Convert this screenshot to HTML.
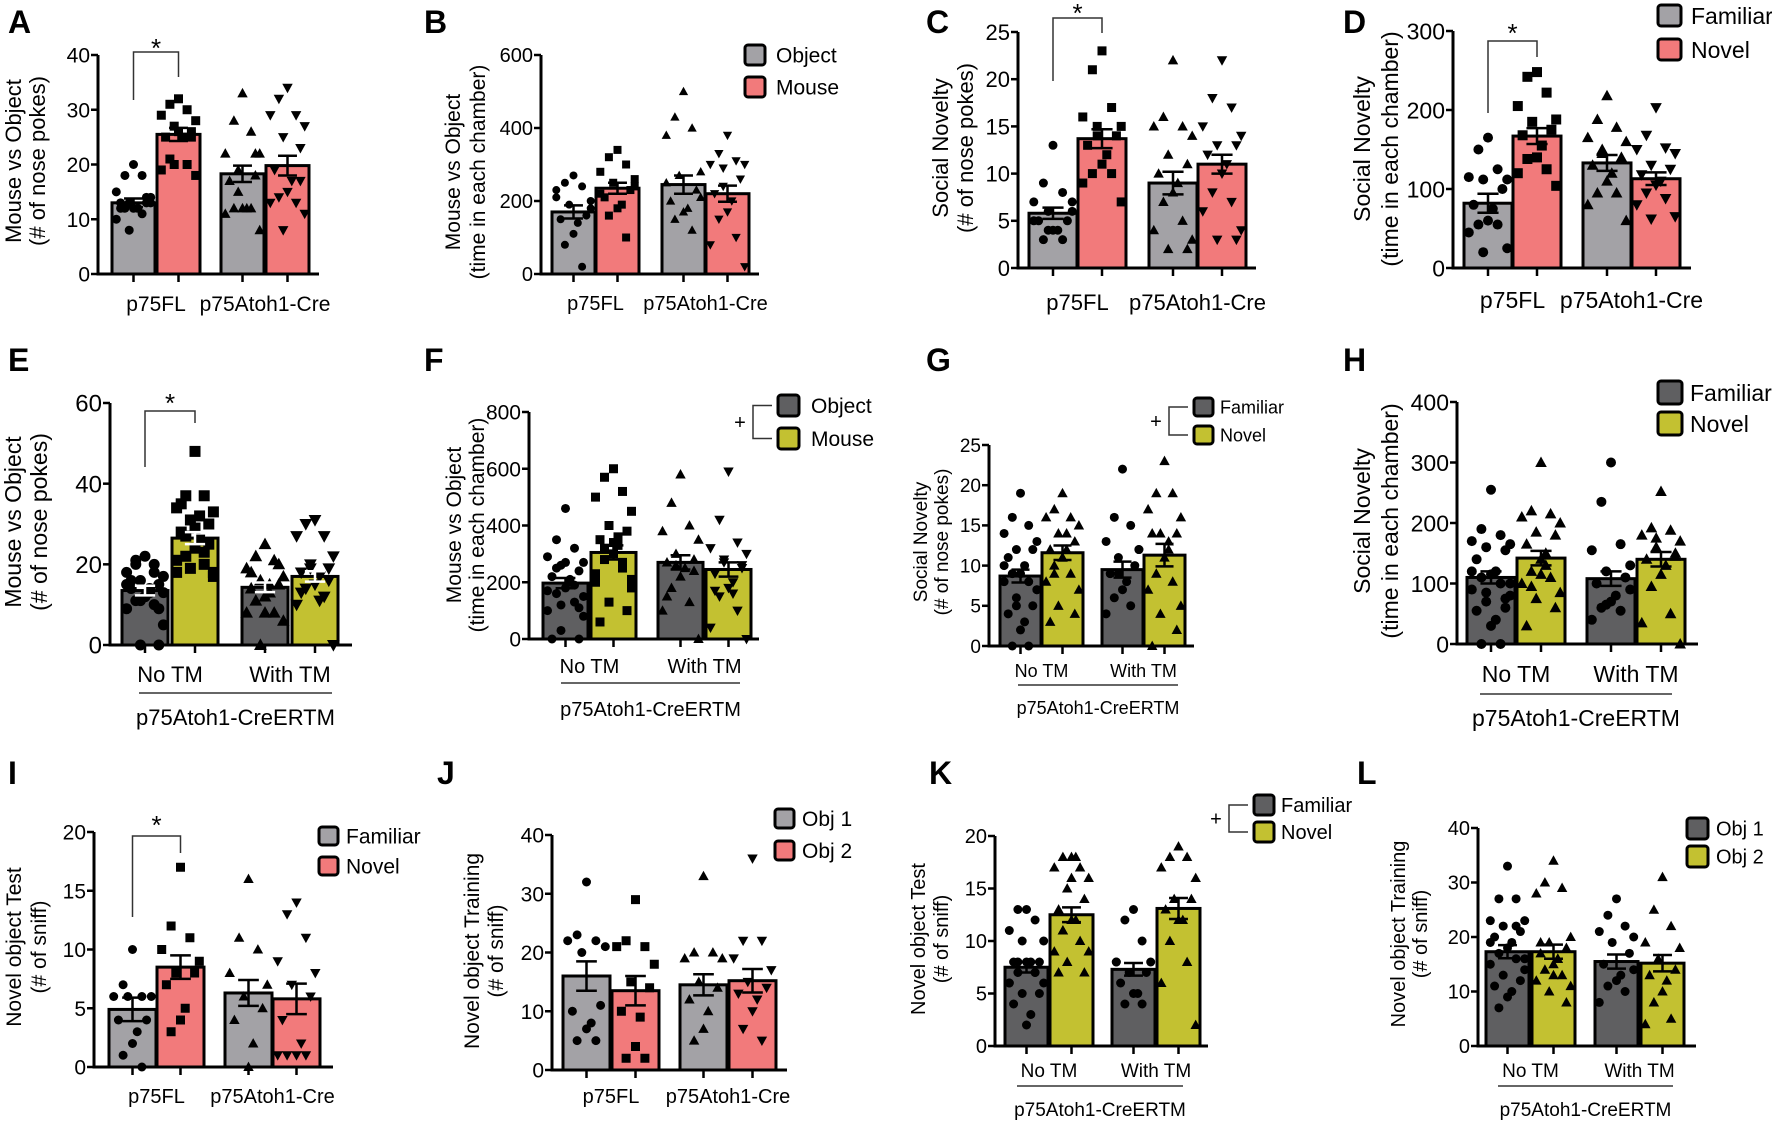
<!DOCTYPE html>
<html><head><meta charset="utf-8"><style>
html,body{margin:0;padding:0;background:#fff}
svg{display:block;font-family:"Liberation Sans",Arial,sans-serif}
</style></head><body>
<svg id="fig" xmlns="http://www.w3.org/2000/svg" width="1772" height="1126" viewBox="0 0 1772 1126"></svg>
<script>
// ---------- DATA ----------
const catsCre = ['p75FL','p75Atoh1-Cre'];
const catsTM = ['No TM','With TM'];
const groupTM = 'p75Atoh1-CreERTM';

const A_mean=[13,25.5,18.3,19.8]; const A_sem=[0.8,1.2,1.5,1.8];
const A_p1=[20,18,18,15,14,13,13,13,12,12,12,11,10,13,8,14,12];
const A_p2=[32,31,30,29,28,27,26,25,25,26,21,20,19,18,20,25];
const A_p3=[33,28,26,22,22,19,18,17,12,12,12,12,11,8,15,22];
const A_p4=[34,32,29,29,27,25,23,19,17,15,14,13,13,11,8,17];

const B_mean=[170,235,245,220]; const B_sem=[18,15,25,22];
const B_p1=[270,250,240,230,200,190,160,150,140,110,80,20,210,180];
const B_p2=[340,320,300,280,260,250,230,210,190,180,160,100,220,240];
const B_p3=[500,430,400,380,280,270,230,200,180,170,150,120,250,210];
const B_p4=[380,330,310,300,300,290,260,220,200,170,150,100,80,20,240];

const C_mean=[5.8,13.7,9,11]; const C_sem=[0.6,1,1.2,1];
const C_p1=[13,9,8,7,7,6,5,5,4,4,3,3,5,6,4];
const C_p2=[23,21,17,16,15,14,14,13,12,11,10,10,9,7,15];
const C_p3=[22,16,15,15,14,12,11,10,9,8,7,5,4,3,2,2];
const C_p4=[22,18,17,15,14,13,13,12,11,10,8,7,6,4,3,3];

const D_mean=[82,167,133,113]; const D_sem=[12,10,10,8];
const D_p1=[165,150,125,115,112,112,100,80,75,60,55,55,45,25,20];
const D_p2=[248,242,222,205,188,185,175,168,155,140,138,125,120,104];
const D_p3=[218,188,178,165,160,150,140,130,120,110,95,95,80,60,145];
const D_p4=[203,168,152,150,145,130,125,118,110,105,95,88,80,65,62];

const E_mean=[13.5,26.5,14.3,17]; const E_sem=[1.2,1.5,1.2,1.3];
const E_p1=[22,21,20,18,17,16,15,14,13,12,11,10,9,5,0,0,16,14,12,20,18,15,13,11,9];
const E_p2=[48,37,37,34,33,31,30,28,26,24,22,20,18,17,19,25,35,32,29,27,23,21,18];
const E_p3=[25,22,21,19,17,16,15,14,13,12,11,8,8,6,0,20,18,15,8];
const E_p4=[31,30,27,27,22,20,19,18,17,15,14,12,10,0,19,16,13,11];

const F_mean=[197,305,270,245]; const F_sem=[18,25,25,25];
const F_p1=[460,350,320,290,270,260,240,220,200,180,160,130,100,80,30,0,0,210,270,250,190,170,150,120,110];
const F_p2=[600,570,520,500,450,400,380,350,330,300,280,250,200,180,130,100,60,360,340,320,270,230,210];
const F_p3=[580,480,400,380,350,300,280,270,250,220,180,130,100,0,260,240,150];
const F_p4=[590,420,340,320,300,280,250,230,200,180,150,100,40,0,270,260,170,160];

const G_mean=[8.7,11.6,9.5,11.3]; const G_sem=[0.8,0.9,1,1.4];
const G_p1=[19,16,15,14,13,12,12,11,10,9,9,8,8,7,6,5,4,3,2,0,0,10,7,5];
const G_p2=[19,17,16,16,15,14,13,12,12,11,10,9,8,7,5,4,3,14,11,9];
const G_p3=[22,16,15,13,12,11,10,9,8,7,6,5,4,12,9];
const G_p4=[23,19,19,17,16,14,14,14,13,11,9,8,7,5,4,2,0,12];

const H_mean=[110,142,108,140]; const H_sem=[10,12,12,12];
const H_p1=[255,190,180,170,165,160,155,140,120,115,110,100,90,80,70,60,55,40,30,0,0,120,100,85,75];
const H_p2=[300,220,215,210,200,185,180,165,150,140,120,110,100,85,75,60,30,130,115,95];
const H_p3=[300,235,165,155,130,120,110,100,80,70,60,55,40,90,65];
const H_p4=[252,192,188,180,170,160,150,140,130,115,95,50,35,0,175,145];

const I_mean=[4.9,8.5,6.3,5.8]; const I_sem=[1,1,1.1,1.3];
const I_p1=[10,7,6,6,6,6,4,4,3,2,1,0];
const I_p2=[17,12,11,10,9,8,8,7,5,4,3];
const I_p3=[16,11,10,8,7,6,5,4,2,0];
const I_p4=[14,13,11,9,8,7,6,4,2,1,1,1,1];

const J_mean=[16,13.5,14.5,15.2]; const J_sem=[2.5,2.5,1.8,2];
const J_p1=[32,23,22,22,21,20,11,10,8,7,5,5];
const J_p2=[29,22,21,21,18,15,14,10,9,4,2,2];
const J_p3=[33,20,20,19,19,15,14,12,10,7,5];
const J_p4=[36,22,22,19,17,15,14,13,12,10,7,5];

const K_mean=[7.5,12.5,7.3,13.1]; const K_sem=[0.5,0.7,0.6,1];
const K_p1=[13,13,12,11,10,10,8,8,8,8,7,7,6,6,5,5,4,3,2,8,7,6];
const K_p2=[18,18,17,17,16,15,14,13,12,12,11,10,9,9,8,7,7,18,16,11];
const K_p3=[13,12,10,8,8,7,7,6,5,5,4,4,8];
const K_p4=[19,18,18,17,16,14,14,13,12,12,10,8,6,2];

const L_mean=[17.3,17.3,15.5,15.2]; const L_sem=[1.2,1.3,1.3,1.5];
const L_p1=[33,27,27,23,23,22,21,20,19,18,17,16,15,14,13,12,11,10,9,7,22,19,16];
const L_p2=[34,30,29,28,20,19,18,17,16,15,14,13,12,11,10,8,19,16,13];
const L_p3=[27,24,22,21,20,19,17,15,13,12,11,10,8,14];
const L_p4=[31,25,22,19,18,16,14,13,12,10,8,5,4];

const A_ticks=[0,10,20,30,40], B_ticks=[0,200,400,600], C_ticks=[0,5,10,15,20,25], D_ticks=[0,100,200,300];
const E_ticks=[0,20,40,60], F_ticks=[0,200,400,600,800], G_ticks=[0,5,10,15,20,25], H_ticks=[0,100,200,300,400];
const I_ticks=[0,5,10,15,20], J_ticks=[0,10,20,30,40], K_ticks=[0,5,10,15,20], L_ticks=[0,10,20,30,40];

const legObjMouse=['Object','Mouse'], legFamNov=['Familiar','Novel'], legObj=['Obj 1','Obj 2'];

// ---------- RENDER ----------
const NS='http://www.w3.org/2000/svg';
const svg=document.getElementById('fig');
const GREY='#a3a2a6', PINK='#f27a7b', DARK='#5f5f61', OLIVE='#c3c131';
function mk(tag,attrs,parent){const e=document.createElementNS(NS,tag);for(const k in attrs)e.setAttribute(k,attrs[k]);(parent||svg).appendChild(e);return e;}
function txt(s,attrs,parent){const e=mk('text',attrs,parent);e.textContent=s;return e;}

const panels=[
 {id:'A',letter:[8,33],ax:98,y0:274,yT:55,max:40,ticks:A_ticks,axEnd:319,start:112,w:43,gi:2,go:21,fs:21,mean:A_mean,sem:A_sem,pts:[A_p1,A_p2,A_p3,A_p4],cols:[GREY,PINK,GREY,PINK],shapes:['c','s','t','d'],ms:9,cats:catsCre,catY:311,catFs:21,ylab:['Mouse vs Object','(# of nose pokes)'],ylx:[21,45],yly:161,ylfs:22,sig:{top:52,l:100,r:77,star:45}},
 {id:'B',letter:[424,33],ax:541,y0:274,yT:55,max:600,ticks:B_ticks,axEnd:759,start:552,w:43,gi:1,go:23,fs:20,mean:B_mean,sem:B_sem,pts:[B_p1,B_p2,B_p3,B_p4],cols:[GREY,PINK,GREY,PINK],shapes:['c','s','t','d'],ms:8,cats:catsCre,catY:310,catFs:20,ylab:['Mouse vs Object','(time in each chamber)'],ylx:[460,485],yly:172,ylfs:21,leg:{x:745,y:45,y2:77,bw:20,bh:20,tx:776,fs:21,labels:legObjMouse}},
 {id:'C',letter:[926,33],ax:1018,y0:268,yT:32,max:25,ticks:C_ticks,axEnd:1256,start:1029,w:48,gi:1,go:23,fs:22,mean:C_mean,sem:C_sem,pts:[C_p1,C_p2,C_p3,C_p4],cols:[GREY,PINK,GREY,PINK],shapes:['c','s','t','d'],ms:9,cats:catsCre,catY:310,catFs:22,ylab:['Social Novelty','(# of nose pokes)'],ylx:[948,973],yly:148,ylfs:22,sig:{top:18,l:81,r:33,star:10}},
 {id:'D',letter:[1343,33],ax:1453,y0:268,yT:31,max:300,ticks:D_ticks,axEnd:1691,start:1464,w:48,gi:1,go:22,fs:23,mean:D_mean,sem:D_sem,pts:[D_p1,D_p2,D_p3,D_p4],cols:[GREY,PINK,GREY,PINK],shapes:['c','s','t','d'],ms:10,cats:catsCre,catY:308,catFs:23,ylab:['Social Novelty','(time in each chamber)'],ylx:[1370,1398],yly:149,ylfs:23,sig:{top:41,l:113,r:57,star:30},leg:{x:1658,y:5,y2:39,bw:23,bh:21,tx:1691,fs:23,labels:legFamNov}},
 {id:'E',letter:[8,371],ax:110,y0:645,yT:403,max:60,ticks:E_ticks,axEnd:352,start:122,w:46,gi:4,go:24,fs:24,mean:E_mean,sem:E_sem,pts:[E_p1,E_p2,E_p3,E_p4],cols:[DARK,OLIVE,DARK,OLIVE],shapes:['c','s','t','d'],ms:11,err:'#fff',cats:catsTM,catY:682,catFs:22,grp:{y:725,line:693,x1:139,x2:332,fs:22},ylab:['Mouse vs Object','(# of nose pokes)'],ylx:[21,47],yly:522,ylfs:23,sig:{top:411,l:467,r:423,star:400}},
 {id:'F',letter:[424,371],ax:529,y0:639,yT:412,max:800,ticks:F_ticks,axEnd:759,start:543,w:45,gi:3,go:22,fs:21,mean:F_mean,sem:F_sem,pts:[F_p1,F_p2,F_p3,F_p4],cols:[DARK,OLIVE,DARK,OLIVE],shapes:['c','s','t','d'],ms:9,cats:catsTM,catY:673,catFs:20,grp:{y:716,line:683,x1:561,x2:740,fs:20},ylab:['Mouse vs Object','(time in each chamber)'],ylx:[461,484],yly:525,ylfs:21,leg:{x:778,y:395,y2:428,bw:21,bh:21,tx:811,fs:21,labels:legObjMouse,br:true}},
 {id:'G',letter:[926,371],ax:989,y0:646,yT:445,max:25,ticks:G_ticks,axEnd:1194,start:1000,w:41,gi:1,go:19,fs:19,mean:G_mean,sem:G_sem,pts:[G_p1,G_p2,G_p3,G_p4],cols:[DARK,OLIVE,DARK,OLIVE],shapes:['c','t','c','t'],ms:9,cats:catsTM,catY:677,catFs:18,grp:{y:714,line:685,x1:1018,x2:1178,fs:18},ylab:['Social Novelty','(# of nose pokes)'],ylx:[927,948],yly:542,ylfs:19,leg:{x:1194,y:398,y2:426,bw:19,bh:18,tx:1220,fs:18,labels:legFamNov,br:true}},
 {id:'H',letter:[1343,371],ax:1457,y0:644,yT:402,max:400,ticks:H_ticks,axEnd:1698,start:1467,w:48,gi:2,go:22,fs:23,mean:H_mean,sem:H_sem,pts:[H_p1,H_p2,H_p3,H_p4],cols:[DARK,OLIVE,DARK,OLIVE],shapes:['c','t','c','t'],ms:10,cats:catsTM,catY:682,catFs:23,grp:{y:726,line:694,x1:1480,x2:1672,fs:23},ylab:['Social Novelty','(time in each chamber)'],ylx:[1370,1398],yly:521,ylfs:23,leg:{x:1658,y:381,y2:412,bw:24,bh:23,tx:1690,fs:23,labels:legFamNov}},
 {id:'I',letter:[8,784],ax:94,y0:1067,yT:832,max:20,ticks:I_ticks,axEnd:333,start:109,w:47,gi:1,go:21,fs:21,mean:I_mean,sem:I_sem,pts:[I_p1,I_p2,I_p3,I_p4],cols:[GREY,PINK,GREY,PINK],shapes:['c','s','t','d'],ms:9,cats:catsCre,catY:1103,catFs:20,ylab:['Novel object Test','(# of  sniff)'],ylx:[21,46],yly:947,ylfs:21,sig:{top:836,l:917,r:853,star:822},leg:{x:319,y:827,y2:857,bw:19,bh:18,tx:346,fs:21,labels:legFamNov}},
 {id:'J',letter:[437,784],ax:552,y0:1070,yT:835,max:40,ticks:J_ticks,axEnd:787,start:563,w:47,gi:2,go:21,fs:21,mean:J_mean,sem:J_sem,pts:[J_p1,J_p2,J_p3,J_p4],cols:[GREY,PINK,GREY,PINK],shapes:['c','s','t','d'],ms:9,cats:catsCre,catY:1103,catFs:20,ylab:['Novel object Training','(# of  sniff)'],ylx:[479,503],yly:951,ylfs:21,leg:{x:775,y:809,y2:841,bw:19,bh:19,tx:802,fs:21,labels:legObj}},
 {id:'K',letter:[929,784],ax:995,y0:1046,yT:836,max:20,ticks:K_ticks,axEnd:1208,start:1005,w:43,gi:2,go:19,fs:20,mean:K_mean,sem:K_sem,pts:[K_p1,K_p2,K_p3,K_p4],cols:[DARK,OLIVE,DARK,OLIVE],shapes:['c','t','c','t'],ms:9,cats:catsTM,catY:1077,catFs:19,grp:{y:1116,line:1086,x1:1017,x2:1183,fs:19},ylab:['Novel object Test','(# of  sniff)'],ylx:[925,948],yly:939,ylfs:20,leg:{x:1254,y:795,y2:822,bw:20,bh:20,tx:1281,fs:20,labels:legFamNov,br:true}},
 {id:'L',letter:[1357,784],ax:1478,y0:1046,yT:828,max:40,ticks:L_ticks,axEnd:1696,start:1486,w:43,gi:3,go:20,fs:20,mean:L_mean,sem:L_sem,pts:[L_p1,L_p2,L_p3,L_p4],cols:[DARK,OLIVE,DARK,OLIVE],shapes:['c','t','c','t'],ms:9,cats:catsTM,catY:1077,catFs:19,grp:{y:1116,line:1086,x1:1498,x2:1673,fs:19},ylab:['Novel object Training','(# of  sniff)'],ylx:[1405,1427],yly:934,ylfs:20,leg:{x:1687,y:818,y2:846,bw:21,bh:21,tx:1716,fs:20,labels:legObj}}
];

function marker(g,shape,x,y,s){
  let e;
  if(shape==='c'){e=mk('circle',{cx:x,cy:y,r:s/2,fill:'#000'},g);}
  else if(shape==='s'){e=mk('rect',{x:x-s/2,y:y-s/2,width:s,height:s,fill:'#000'},g);}
  else if(shape==='t'){e=mk('polygon',{points:`${x},${y-s*0.6} ${x-s*0.58},${y+s*0.45} ${x+s*0.58},${y+s*0.45}`,fill:'#000'},g);}
  else {e=mk('polygon',{points:`${x},${y+s*0.6} ${x-s*0.58},${y-s*0.45} ${x+s*0.58},${y-s*0.45}`,fill:'#000'},g);}
  
  
}

const jit=[0,-1,1,-2,2,-0.5,1.5,-1.5,0.5];
panels.forEach(p=>{
  const g=mk('g',{});
  
  
  const yS=v=>p.y0-(v/p.max)*(p.y0-p.yT);
  const bxx=i=>{const pair=Math.floor(i/2);return p.start+pair*(2*p.w+p.gi+p.go)+(i%2)*(p.w+p.gi);};
  const cx=i=>bxx(i)+p.w/2;
  const lt=txt(p.id,{x:p.letter[0],y:p.letter[1],'font-size':32,'font-weight':'bold',fill:'#000'},g);
  
  
  p.ylab.forEach((s,k)=>{
    const t=txt(s,{transform:`translate(${p.ylx[k]},${p.yly}) rotate(-90)`,'text-anchor':'middle','font-size':p.ylfs,fill:'#000'},g);
    
    
  });
  p.mean.forEach((m,i)=>{
    const r=mk('rect',{x:bxx(i),y:yS(m),width:p.w,height:p.y0-yS(m),fill:p.cols[i],stroke:'#000','stroke-width':3},g);
    
    
  });
  p.pts.forEach((arr,i)=>{
    arr.forEach((v,j)=>{marker(g,p.shapes[i],cx(i)+jit[j%jit.length]*p.w*0.2,yS(v),p.ms);});
  });
  p.mean.forEach((m,i)=>{
    const ec=p.err||'#000';
    const x=cx(i),yt=yS(m+p.sem[i]),yb=yS(m-p.sem[i]);
    const eb=mk('path',{d:`M${x},${yt}V${yb}M${x-p.w*0.22},${yt}H${x+p.w*0.22}M${x-p.w*0.22},${yb}H${x+p.w*0.22}`,stroke:ec,'stroke-width':2.5,fill:'none'},g);
    
    
  });
  const ax=mk('path',{d:`M${p.ax},${p.yT}V${p.y0}H${p.axEnd}`,stroke:'#000','stroke-width':3,fill:'none'},g);
  
  
  p.ticks.forEach(t=>{
    mk('line',{x1:p.ax-7,x2:p.ax,y1:yS(t),y2:yS(t),stroke:'#000','stroke-width':2.5},g);
    const tl=txt(String(t),{x:p.ax-8,y:yS(t)+p.fs*0.36,'text-anchor':'end','font-size':p.fs,fill:'#000'},g);
    
    
  });
  p.mean.forEach((m,i)=>{mk('line',{x1:cx(i),x2:cx(i),y1:p.y0,y2:p.y0+8,stroke:'#000','stroke-width':2.5},g);});
  p.cats.forEach((c,k)=>{
    const t=txt(c,{x:(cx(2*k)+cx(2*k+1))/2,y:p.catY,'text-anchor':'middle','font-size':p.catFs,fill:'#000'},g);
    
    
  });
  if(p.grp){
    mk('line',{x1:p.grp.x1,x2:p.grp.x2,y1:p.grp.line,y2:p.grp.line,stroke:'#333','stroke-width':1.5},g);
    const t=txt(groupTM,{x:(p.grp.x1+p.grp.x2)/2,y:p.grp.y,'text-anchor':'middle','font-size':p.grp.fs,fill:'#000'},g);
    
    
  }
  if(p.sig){
    const s=p.sig,x1=cx(0),x2=cx(1);
    const br=mk('path',{d:`M${x1},${s.l}V${s.top}H${x2}V${s.r}`,stroke:'#333','stroke-width':1.5,fill:'none'},g);
    
    
    const st=txt('*',{x:(x1+x2)/2,y:s.star+12,'text-anchor':'middle','font-size':26,fill:'#000'},g);
    
    
  }
  if(p.leg){
    const L=p.leg;
    [L.y,L.y2].forEach((yy,k)=>{
      const r=mk('rect',{x:L.x,y:yy,width:L.bw,height:L.bh,rx:3,fill:p.cols[k],stroke:'#000','stroke-width':3},g);
      
      
      const t=txt(L.labels[k],{x:L.tx,y:yy+L.bh/2+L.fs*0.36,'font-size':L.fs,fill:'#000'},g);
      
      
    });
    if(L.br){
      const ya=L.y+L.bh/2,yb=L.y2+L.bh/2,xv=L.x-25;
      mk('path',{d:`M${L.x-6},${ya}H${xv}V${yb}H${L.x-6}`,stroke:'#333','stroke-width':1.5,fill:'none'},g);
      const pl=txt('+',{x:xv-13,y:(ya+yb)/2+7,'text-anchor':'middle','font-size':20,fill:'#000'},g);
      
      
    }
  }
});
</script>
</body></html>
